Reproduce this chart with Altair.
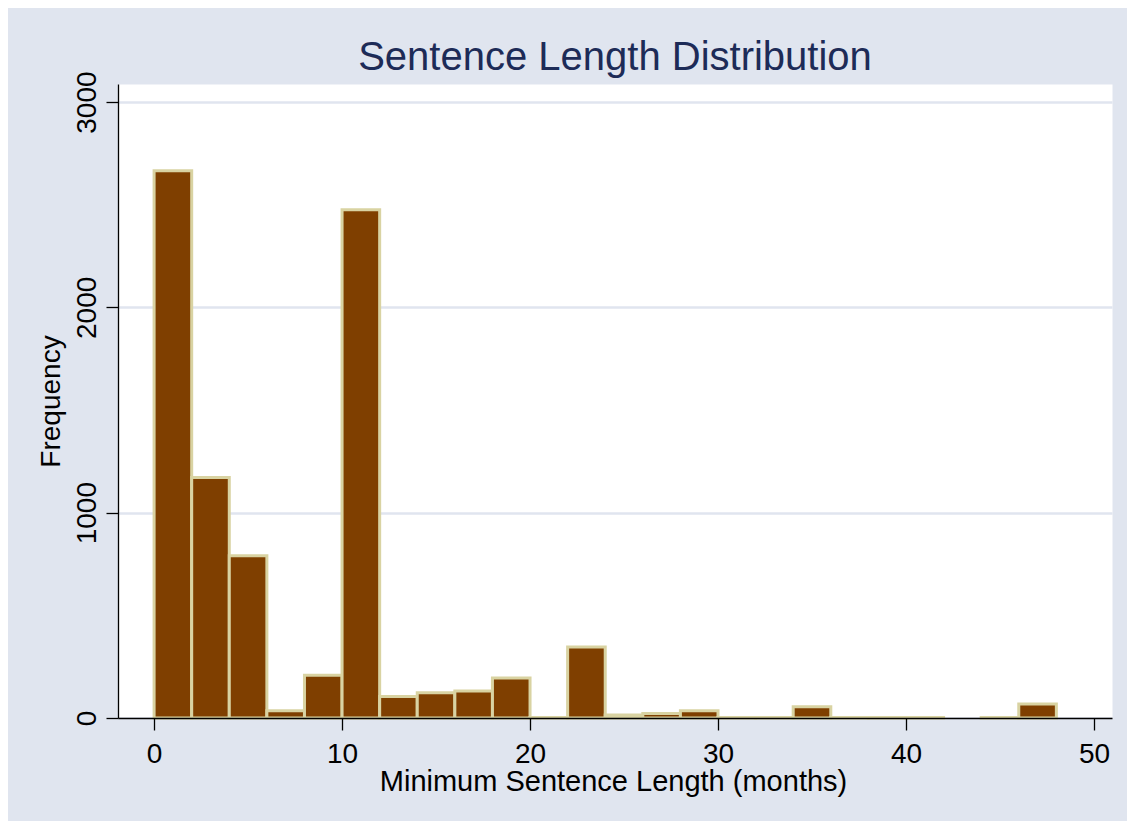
import altair as alt
import pandas as pd

# Histogram bins (months) and frequencies
bin_start = [0, 2, 4, 6, 8, 10, 12, 14, 16, 18, 20, 22, 24, 26, 28, 30, 32, 34, 36, 38, 40, 42, 44, 46]
bin_end = [2, 4, 6, 8, 10, 12, 14, 16, 18, 20, 22, 24, 26, 28, 30, 32, 34, 36, 38, 40, 42, 44, 46, 48]
frequency = [2665, 1171, 790, 35, 208, 2475, 105, 123, 132, 195, 2, 346, 15, 22, 35, 3, 3, 55, 2, 2, 2, 0, 2, 68]

x_ticks = [0, 10, 20, 30, 40, 50]
y_ticks = [0, 1000, 2000, 3000]

df = pd.DataFrame({"start": bin_start, "end": bin_end, "freq": frequency})
df = df[df["freq"] > 0]

FONT = "Liberation Sans"
BG = "#e0e5ef"

bars = alt.Chart(df).mark_rect(
    fill="#7f3f00", stroke="#d9d3a2", strokeWidth=3
).encode(
    x=alt.X(
        "start:Q",
        scale=alt.Scale(domain=[-1.92, 50.96], nice=False, zero=False),
        axis=alt.Axis(
            values=x_ticks,
            format="d",
            title="Minimum Sentence Length (months)",
            grid=False,
            tickSize=12, tickColor="black", tickWidth=1.3,
            domainColor="black", domainWidth=1.3,
            labelFont=FONT, labelFontSize=28, labelColor="black",
            labelAlign="center", labelBaseline="alphabetic", labelPadding=32,
            labelFlush=False, labelOverlap=False,
            titleFont=FONT, titleFontSize=29, titleFontWeight="normal", titleColor="black",
            titleX=495, titleY=72, titleAlign="center", titleBaseline="alphabetic",
            zindex=1,
        ),
    ),
    x2="end:Q",
    y=alt.Y(
        "freq:Q",
        scale=alt.Scale(domain=[0, 3088], nice=False, zero=True),
        axis=alt.Axis(
            values=y_ticks,
            format="d",
            title="Frequency",
            grid=True, gridColor=BG, gridWidth=2.5,
            tickSize=12, tickColor="black", tickWidth=1.3,
            domainColor="black", domainWidth=1.3,
            labelFont=FONT, labelFontSize=28, labelColor="black",
            labelAngle=270, labelAlign="center", labelBaseline="alphabetic", labelPadding=11,
            labelFlush=False, labelOverlap=False,
            titleFont=FONT, titleFontSize=28, titleFontWeight="normal", titleColor="black",
            titleAngle=270, titleX=-59, titleY=317, titleAlign="center", titleBaseline="alphabetic",
        ),
    ),
    y2=alt.datum(0),
).properties(
    width=994,
    height=634,
    title=alt.Title(
        "Sentence Length Distribution",
        font=FONT, fontSize=40, fontWeight="normal", color="#1d2b57",
        anchor="middle", offset=12, baseline="alphabetic", dy=51,
    ),
    autosize=alt.AutoSizeParams(type="none"),
    padding={"left": 110, "top": 76, "right": 15, "bottom": 103},
    background=BG,
).configure_view(
    fill="white", strokeOpacity=0
)

bars.save("out.html", embed_options={"renderer": "svg", "actions": False})
